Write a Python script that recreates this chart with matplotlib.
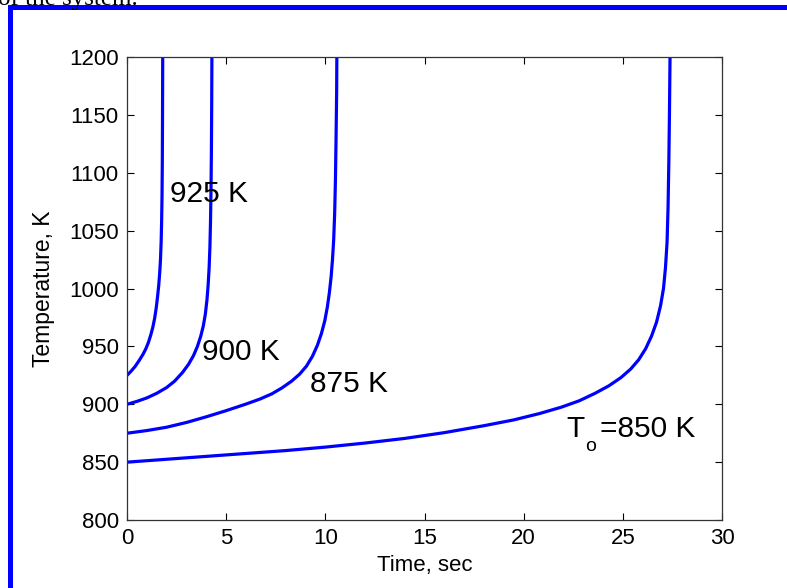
#!/usr/bin/env python3
"""
Thermal explosion: temperature vs time for several initial temperatures.
"""
import matplotlib.pyplot as plt
from matplotlib.patches import Rectangle

plt.rcParams['font.family'] = ['Liberation Sans', 'DejaVu Sans']

# (time s, temperature K) for each initial temperature
t_925 = [0, 0.2, 0.4, 0.6, 0.8, 0.95, 1.08, 1.2, 1.3, 1.39, 1.47, 1.54, 1.6, 1.65, 1.69, 1.72,
         1.745, 1.765, 1.78, 1.79, 1.80]
T_925 = [925, 928.5, 932.5, 937.5, 943, 948, 953.5, 960, 966.5, 974, 983, 993, 1003, 1014, 1026, 1040,
         1058, 1080, 1110, 1150, 1200]

t_900 = [0, 0.5, 1.0, 1.5, 2.0, 2.4, 2.8, 3.1, 3.35, 3.55, 3.72, 3.85, 3.95, 4.03, 4.09, 4.14,
         4.18, 4.21, 4.235, 4.255, 4.27, 4.28]
T_900 = [900, 902.5, 905.5, 909.5, 914.5, 920, 927.5, 934.5, 942, 950, 959, 968, 978, 990, 1003, 1018,
         1036, 1058, 1085, 1120, 1160, 1200]

t_875 = [0, 1, 2, 3, 4, 5, 6, 6.7, 7.3, 7.8, 8.3, 8.7, 9.05, 9.35, 9.6, 9.8, 9.97, 10.1, 10.2,
         10.29, 10.36, 10.42, 10.47, 10.51, 10.54, 10.57, 10.58]
T_875 = [875, 877.3, 880.2, 884.3, 889.2, 894.5, 900.2, 904.5, 909, 914, 920, 926, 933, 941.5, 951, 961,
         972, 984, 996, 1010, 1025, 1042, 1065, 1095, 1130, 1170, 1200]

t_850 = [0, 2, 4, 6, 8, 10, 12, 14, 16, 18, 19.5, 20.8, 21.9, 22.8, 23.6, 24.3, 24.9, 25.4, 25.8,
         26.15, 26.45, 26.7, 26.9, 27.05, 27.15, 27.23, 27.28, 27.32, 27.35, 27.38]
T_850 = [850, 852.5, 855, 857.5, 860, 863, 866.5, 870.5, 875.5, 881.5, 886.5, 892, 897.5, 903, 909.5,
         916, 923, 930.5, 938.5, 948, 959, 971, 985, 1000, 1018, 1040, 1070, 1110, 1150, 1200]

x_ticks = [0, 5, 10, 15, 20, 25, 30]
y_ticks = [800, 850, 900, 950, 1000, 1050, 1100, 1150, 1200]

fig = plt.figure(figsize=(7.87, 5.88), dpi=100)
ax = fig.add_axes([0.1614, 0.1156, 0.756, 0.7874])

for t, T in [(t_925, T_925), (t_900, T_900), (t_875, T_875), (t_850, T_850)]:
    ax.plot(t, T, color='#0000ff', linewidth=2.3, solid_joinstyle='round')

ax.set_xlim(0, 30)
ax.set_ylim(800, 1200)
ax.set_xticks(x_ticks)
ax.set_yticks(y_ticks)
ax.tick_params(direction='in', length=5, width=0.8, top=True, right=True,
               labelsize=16, pad=6, colors='black')
for s in ax.spines.values():
    s.set_linewidth(0.9)
    s.set_color('#333333')

ax.set_xlabel('Time, sec', fontsize=16, labelpad=4)
ax.set_ylabel('Temperature, K', fontsize=16.5, labelpad=10)

# curve labels
lab = dict(fontsize=21.5, ha='left', va='baseline')
ax.text(2.17, 1075, '925 K', **lab)
ax.text(3.77, 938, '900 K', **lab)
ax.text(9.23, 911, '875 K', **lab)
ax.text(22.17, 872, 'T', **lab)
ax.text(23.1, 860, 'o', fontsize=14, ha='left', va='baseline')
ax.text(23.85, 872, '=850 K', **lab)

# page frame and cut-off sentence from the document above
fig.text(-0.003, 1 - 5 / 588, 'of the system.', family='Liberation Serif', fontsize=18,
         ha='left', va='baseline')
fig.add_artist(Rectangle((8 / 787, 1 - 10 / 588), 1, 5 / 588, transform=fig.transFigure,
                         color='#0000ff', lw=0))
fig.add_artist(Rectangle((8 / 787, 0), 5 / 787, 1 - 5 / 588, transform=fig.transFigure,
                         color='#0000ff', lw=0))

fig.savefig('out.png', dpi=100)
